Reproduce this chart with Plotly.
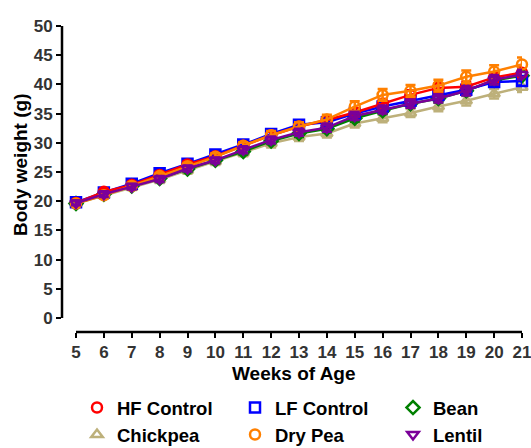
import plotly.graph_objects as go

weeks = list(range(5, 22))

hf_control = [19.7, 21.6, 22.8, 24.5, 26.3, 27.7, 29.5, 31.3, 32.8, 33.9, 35.2, 36.7, 38.2, 39.4, 39.6, 41.2, 42.0]
lf_control = [19.8, 21.5, 23.0, 24.8, 26.4, 28.0, 29.7, 31.5, 33.1, 33.5, 35.0, 36.2, 37.2, 38.2, 39.1, 40.4, 40.6]
bean       = [19.6, 21.2, 22.6, 23.9, 25.5, 27.0, 28.5, 30.3, 31.6, 32.4, 34.2, 35.5, 36.7, 37.6, 38.9, 40.7, 41.5]
chickpea   = [19.6, 21.0, 22.4, 23.7, 25.3, 26.8, 28.3, 29.9, 31.0, 31.6, 33.3, 34.2, 35.1, 36.2, 37.2, 38.4, 39.5]
dry_pea    = [19.6, 21.0, 22.6, 24.3, 26.0, 27.6, 29.5, 31.3, 32.8, 34.0, 36.2, 38.2, 38.9, 39.8, 41.3, 42.2, 43.4]
lentil     = [19.7, 21.2, 22.5, 23.8, 25.6, 27.0, 28.8, 30.5, 31.8, 32.6, 34.6, 35.7, 36.7, 37.6, 38.9, 40.8, 41.7]

hf_err       = [0.4, 0.5, 0.5, 0.5, 0.5, 0.5, 0.6, 0.6, 0.6, 0.7, 0.7, 0.8, 0.8, 0.8, 0.8, 0.8, 0.9]
lf_err       = [0.4, 0.5, 0.5, 0.5, 0.5, 0.5, 0.6, 0.6, 0.6, 0.6, 0.7, 0.7, 0.7, 0.7, 0.7, 0.8, 0.8]
bean_err     = [0.4, 0.4, 0.4, 0.5, 0.5, 0.5, 0.5, 0.5, 0.6, 0.6, 0.6, 0.6, 0.6, 0.7, 0.7, 0.7, 0.7]
chickpea_err = [0.5, 0.5, 0.5, 0.6, 0.6, 0.6, 0.6, 0.7, 0.7, 0.7, 0.7, 0.7, 0.7, 0.8, 0.8, 0.8, 0.8]
dry_pea_err  = [0.4, 0.5, 0.5, 0.5, 0.5, 0.6, 0.6, 0.7, 0.7, 0.8, 0.9, 1.0, 1.0, 1.0, 1.1, 1.1, 1.2]
lentil_err   = [0.4, 0.5, 0.5, 0.5, 0.5, 0.5, 0.6, 0.6, 0.6, 0.7, 0.7, 0.7, 0.7, 0.7, 0.8, 0.8, 0.8]

series = [
    ("HF Control", hf_control, hf_err, "#FF0000", "circle-open"),
    ("LF Control", lf_control, lf_err, "#0000FF", "square-open"),
    ("Bean", bean, bean_err, "#008000", "diamond-open"),
    ("Chickpea", chickpea, chickpea_err, "#BDB07A", "triangle-up-open"),
    ("Dry Pea", dry_pea, dry_pea_err, "#FF8000", "circle-open"),
    ("Lentil", lentil, lentil_err, "#7B0099", "triangle-down-open"),
]

draw_order = [3, 2, 1, 0, 4, 5]

fig = go.Figure()
for i in draw_order:
    name, vals, err, color, sym = series[i]
    fig.add_trace(go.Scatter(
        x=weeks, y=vals, mode="lines", line=dict(color=color, width=2.5),
        showlegend=False, hoverinfo="skip", cliponaxis=False))
    fig.add_trace(go.Scatter(
        x=weeks, y=vals, mode="markers", name=name,
        marker=dict(symbol=sym, size=10, color=color, line=dict(color=color, width=2.5)),
        error_y=dict(type="data", array=err, color=color, thickness=2.5, width=5),
        showlegend=False, cliponaxis=False))

font_family = "Arial, Liberation Sans, sans-serif"
legend_font = dict(family=font_family, size=18.5, color="#000000", weight="bold")

W, H = 531, 448
L, R, T, B = 62, 9, 26, 116
PW, PH = W - L - R, H - T - B   # 460 x 306 px

# legend entries: one legend per entry (3 columns x 2 rows), positions in px
col_x = [77, 235, 393]
row_y = [408, 435]
legend_layouts = {}
for k, (name, vals, err, color, sym) in enumerate(series):
    lg = "legend" if k == 0 else f"legend{k + 1}"
    fig.add_trace(go.Scatter(
        x=[None], y=[None], mode="markers", name=name, legend=lg,
        marker=dict(symbol=sym, size=10, color=color, line=dict(color=color, width=2.5))))
    legend_layouts[lg] = dict(
        xref="container", yref="container",
        x=col_x[k % 3] / W, y=(H - row_y[k // 3]) / H,
        xanchor="left", yanchor="middle",
        font=legend_font, bgcolor="rgba(0,0,0,0)",
    )

tick_font = dict(family=font_family, size=17, color="#333333", weight="bold")
title_font = dict(family=font_family, size=19, color="#000000", weight="bold")

x_start, x_end = 5, 21
y_start, y_end = 0, 50
x_lo = x_start - 14 / ((PW - 14) / (x_end - x_start))
y_lo = y_start - 14 / ((PH - 14) / (y_end - y_start))

fig.update_layout(
    width=W, height=H,
    margin=dict(l=L, r=R, t=T, b=B, autoexpand=False),
    paper_bgcolor="white", plot_bgcolor="white",
    xaxis=dict(
        range=[x_lo, x_end],
        tickmode="linear", tick0=5, dtick=1,
        showgrid=False, zeroline=False, showline=False,
        ticks="outside", ticklen=5, tickwidth=2, tickcolor="black",
        tickfont=tick_font, ticklabeloverflow="allow",
    ),
    yaxis=dict(
        range=[y_lo, y_end],
        tickmode="linear", tick0=0, dtick=5,
        showgrid=False, zeroline=False, showline=False,
        ticks="outside", ticklen=5, tickwidth=2, tickcolor="black",
        tickfont=tick_font, ticklabeloverflow="allow",
    ),
    annotations=[
        dict(text="Body weight (g)", textangle=-90, showarrow=False,
             xref="paper", yref="paper",
             x=(20 - L) / PW, y=(T + PH - 165) / PH,
             xanchor="center", yanchor="middle", font=title_font),
        dict(text="Weeks of Age", showarrow=False,
             xref="paper", yref="paper",
             x=(294 - L) / PW, y=(T + PH - 373) / PH,
             xanchor="center", yanchor="middle", font=title_font),
    ],
    shapes=[
        dict(type="line", xref="paper", yref="y", x0=0, x1=0, y0=y_start, y1=y_end,
             line=dict(color="black", width=2.5)),
        dict(type="line", xref="x", yref="paper", x0=x_start, x1=x_end, y0=0, y1=0,
             line=dict(color="black", width=2.5)),
    ],
    **legend_layouts,
)

fig.write_html("out.html", config={"displayModeBar": False},
               post_script="document.body.style.margin='0';")
